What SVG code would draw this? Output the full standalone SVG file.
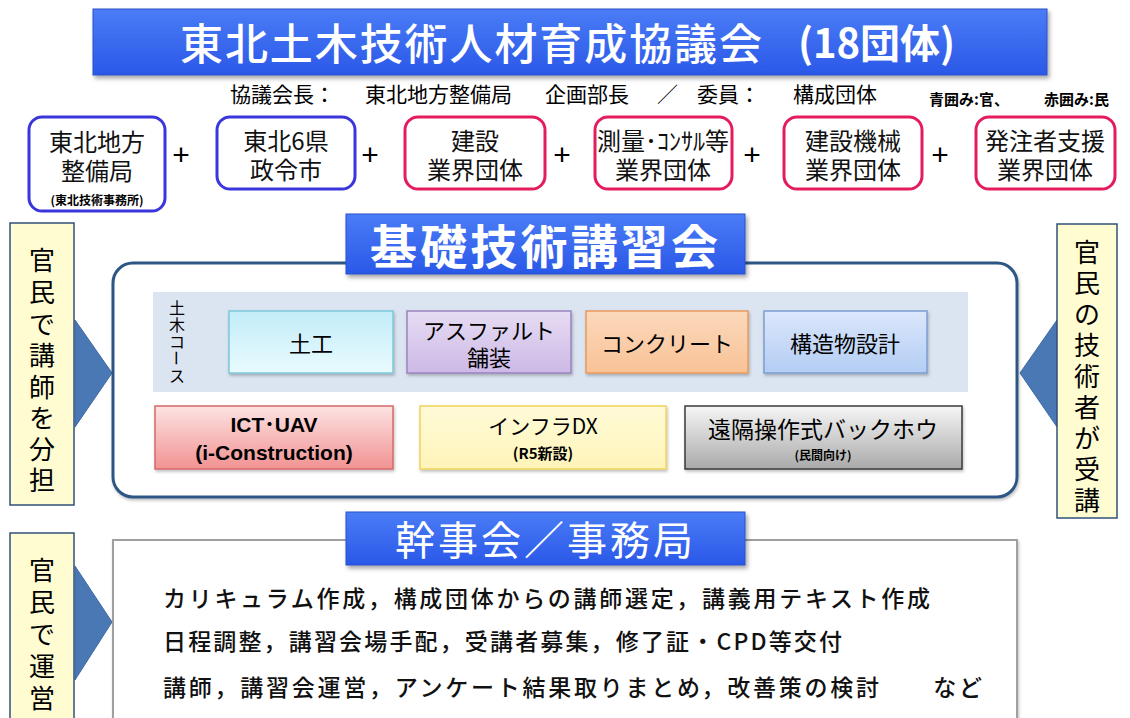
<svg xmlns="http://www.w3.org/2000/svg" width="1130" height="718" viewBox="0 0 1130 718">
<defs>
<linearGradient id="gBar" x1="0" y1="0" x2="0" y2="1"><stop offset="0" stop-color="#4a7cf6"/><stop offset="1" stop-color="#2a58e8"/></linearGradient>
<linearGradient id="gDoko" x1="0" y1="0" x2="0" y2="1"><stop offset="0" stop-color="#c2ecf8"/><stop offset="1" stop-color="#e9fbff"/></linearGradient>
<linearGradient id="gAsp" x1="0" y1="0" x2="0" y2="1"><stop offset="0" stop-color="#e6dcf3"/><stop offset="1" stop-color="#cdb9e6"/></linearGradient>
<linearGradient id="gCon" x1="0" y1="0" x2="0" y2="1"><stop offset="0" stop-color="#fbd9bc"/><stop offset="1" stop-color="#f9c296"/></linearGradient>
<linearGradient id="gStr" x1="0" y1="0" x2="0" y2="1"><stop offset="0" stop-color="#dbe7fb"/><stop offset="1" stop-color="#b3cdf4"/></linearGradient>
<linearGradient id="gIct" x1="0" y1="0" x2="0" y2="1"><stop offset="0" stop-color="#fde3e3"/><stop offset="1" stop-color="#f29292"/></linearGradient>
<linearGradient id="gDx" x1="0" y1="0" x2="0" y2="1"><stop offset="0" stop-color="#fffbd8"/><stop offset="1" stop-color="#fff4b8"/></linearGradient>
<linearGradient id="gBh" x1="0" y1="0" x2="0" y2="1"><stop offset="0" stop-color="#f6f6f6"/><stop offset="1" stop-color="#a9a9a9"/></linearGradient>
<filter id="sh" x="-5%" y="-10%" width="115%" height="130%"><feDropShadow dx="2" dy="3" stdDeviation="2" flood-color="#000" flood-opacity="0.35"/></filter>
<filter id="sh2" x="-5%" y="-10%" width="115%" height="130%"><feDropShadow dx="1" dy="2" stdDeviation="1.5" flood-color="#000" flood-opacity="0.25"/></filter>
</defs>
<style>
text{font-family:"Noto Sans CJK JP","Liberation Sans",sans-serif;fill:#000;dominant-baseline:central}
.bar{fill:url(#gBar);stroke:#2a50c8;stroke-width:1}
.barT{fill:#fff}
.org{fill:#fff;stroke-width:3}
.gov{stroke:#3a36dc}
.pvt{stroke:#e41c5c}
.orgT{font-size:24px;text-anchor:middle;fill:#111}
.plus{font-size:30px;text-anchor:middle;font-family:"Liberation Sans",sans-serif}
.call{fill:#fffcd2;stroke:#32507a;stroke-width:1.5}
.callT{font-size:26px;text-anchor:middle}
.ptr{fill:#4a78b4;stroke:#3d6aa5;stroke-width:1}
.crs{stroke-width:1.5}
.crsT{font-size:22px;text-anchor:middle}
.vt{font-size:16px;text-anchor:middle}
.body{font-size:23px;fill:#111;font-weight:500}
</style>

<g id="title">
<rect class="bar" x="93" y="9" width="954" height="66" filter="url(#sh)"/>
<text class="barT" x="180" y="41" font-size="43" font-weight="500" textLength="582" lengthAdjust="spacing">東北土木技術人材育成協議会</text>
<text class="barT" x="798" y="41" font-size="40" font-weight="bold" textLength="157" lengthAdjust="spacing">(18団体)</text>
</g>

<g id="subtitle">
<text x="230" y="93" font-size="21" fill="#333">協議会長：</text>
<text x="365" y="93" font-size="21" fill="#333">東北地方整備局</text>
<text x="545" y="93" font-size="21" fill="#333">企画部長</text>
<text x="657" y="93" font-size="21" fill="#333">／</text>
<text x="697" y="93" font-size="21" fill="#333">委員：</text>
<text x="793" y="93" font-size="21" fill="#333">構成団体</text>
<text x="929" y="98" font-size="15" font-weight="bold" fill="#2244dd">青囲み:官、</text>
<text x="1044" y="98" font-size="15" font-weight="bold" fill="#ee1111">赤囲み:民</text>
</g>

<g id="org1"><rect class="org gov" x="29" y="117" width="136" height="94" rx="13"/>
<text class="orgT" x="97" y="140">東北地方</text><text class="orgT" x="97" y="169">整備局</text>
<text x="97" y="199" font-size="12" font-weight="bold" text-anchor="middle">(東北技術事務所)</text></g>
<g id="org2"><rect class="org gov" x="217" y="117" width="138" height="72" rx="13"/>
<text class="orgT" x="286" y="139">東北6県</text><text class="orgT" x="286" y="168">政令市</text></g>
<g id="org3"><rect class="org pvt" x="405" y="117" width="140" height="72" rx="13"/>
<text class="orgT" x="475" y="139">建設</text><text class="orgT" x="475" y="168">業界団体</text></g>
<g id="org4"><rect class="org pvt" x="595" y="117" width="137" height="72" rx="13"/>
<text class="orgT" x="663" y="139">測量･ｺﾝｻﾙ等</text><text class="orgT" x="663" y="168">業界団体</text></g>
<g id="org5"><rect class="org pvt" x="784" y="117" width="138" height="72" rx="13"/>
<text class="orgT" x="853" y="139">建設機械</text><text class="orgT" x="853" y="168">業界団体</text></g>
<g id="org6"><rect class="org pvt" x="976" y="117" width="139" height="72" rx="13"/>
<text class="orgT" x="1045" y="139">発注者支援</text><text class="orgT" x="1045" y="168">業界団体</text></g>
<g id="plus">
<text class="plus" x="181" y="154">+</text><text class="plus" x="370" y="154">+</text><text class="plus" x="562" y="154">+</text><text class="plus" x="752" y="154">+</text><text class="plus" x="940" y="154">+</text>
</g>

<g id="connectors">
<polygon class="ptr" points="75,320 112,373 75,427"/>
<polygon class="ptr" points="1057,320 1020,373 1057,427"/>
<polygon class="ptr" points="75,566 112,622 75,680"/>
</g>

<g id="course">
<rect x="113" y="263" width="904" height="234" rx="20" fill="#fff" stroke="#2e5785" stroke-width="3" filter="url(#sh2)"/>
<rect x="153" y="292" width="815" height="100" fill="#dbe5f1"/>
<g id="dobokuCourse">
<text class="vt" x="177" y="307">土</text>
<text class="vt" x="177" y="324">木</text>
<text class="vt" x="177" y="341">コ</text>
<text class="vt" x="177" y="358" transform="rotate(90 177 358)">ー</text>
<text class="vt" x="177" y="375">ス</text>
</g>
<g id="doko"><rect class="crs" x="229" y="311" width="164" height="62" fill="url(#gDoko)" stroke="#7cc8dc" filter="url(#sh2)"/><text class="crsT" x="311" y="342" font-size="26">土工</text></g>
<g id="asphalt"><rect class="crs" x="407" y="311" width="164" height="62" fill="url(#gAsp)" stroke="#9a84bf" filter="url(#sh2)"/><text class="crsT" x="489" y="329">アスファルト</text><text class="crsT" x="489" y="356">舗装</text></g>
<g id="concrete"><rect class="crs" x="586" y="311" width="162" height="62" fill="url(#gCon)" stroke="#e79a5d" filter="url(#sh2)"/><text class="crsT" x="667" y="342">コンクリート</text></g>
<g id="struct"><rect class="crs" x="764" y="311" width="163" height="62" fill="url(#gStr)" stroke="#7d9dd0" filter="url(#sh2)"/><text class="crsT" x="845" y="342">構造物設計</text></g>
<g id="ict"><rect class="crs" x="155" y="406" width="238" height="63" fill="url(#gIct)" stroke="#d46a6a" filter="url(#sh2)"/>
<text x="274" y="424" font-size="21" font-weight="bold" text-anchor="middle" style="font-family:'Liberation Sans','Noto Sans CJK JP',sans-serif">ICT･UAV</text>
<text x="274" y="452" font-size="21" font-weight="bold" text-anchor="middle" style="font-family:'Liberation Sans','Noto Sans CJK JP',sans-serif">(i-Construction)</text></g>
<g id="infradx"><rect class="crs" x="420" y="406" width="246" height="63" fill="url(#gDx)" stroke="#f0d45a" filter="url(#sh2)"/>
<text x="543" y="425" font-size="21" text-anchor="middle">インフラDX</text>
<text x="543" y="452" font-size="15" font-weight="bold" text-anchor="middle">(R5新設)</text></g>
<g id="backhoe"><rect class="crs" x="685" y="406" width="277" height="63" fill="url(#gBh)" stroke="#3a3a3a" filter="url(#sh2)"/>
<text x="823" y="428" font-size="23" text-anchor="middle">遠隔操作式バックホウ</text>
<text x="823" y="454" font-size="12" font-weight="bold" text-anchor="middle">(民間向け)</text></g>
</g>
<g id="courseTitle">
<rect class="bar" x="346" y="214" width="399" height="60" filter="url(#sh)"/>
<text class="barT" x="370" y="243" font-size="47" font-weight="bold" textLength="348" lengthAdjust="spacing">基礎技術講習会</text>
</g>

<g id="leftCall1"><rect class="call" x="10" y="223" width="64" height="282"/>
<text class="callT" x="42"><tspan x="42" y="258">官</tspan><tspan x="42" y="290">民</tspan><tspan x="42" y="322">で</tspan><tspan x="42" y="353">講</tspan><tspan x="42" y="385">師</tspan><tspan x="42" y="416">を</tspan><tspan x="42" y="447">分</tspan><tspan x="42" y="478">担</tspan></text></g>
<g id="rightCall"><rect class="call" x="1057" y="224" width="60" height="294"/>
<text class="callT" x="1087"><tspan x="1087" y="250">官</tspan><tspan x="1087" y="281">民</tspan><tspan x="1087" y="312">の</tspan><tspan x="1087" y="343">技</tspan><tspan x="1087" y="374">術</tspan><tspan x="1087" y="405">者</tspan><tspan x="1087" y="436">が</tspan><tspan x="1087" y="467">受</tspan><tspan x="1087" y="498">講</tspan></text></g>

<g id="office">
<rect x="113" y="540" width="904" height="190" fill="#fff" stroke="#a0a0a0" stroke-width="2" filter="url(#sh2)"/>
<text class="body" x="163" y="597" textLength="767" lengthAdjust="spacing">カリキュラム作成，構成団体からの講師選定，講義用テキスト作成</text>
<text class="body" x="163" y="640" textLength="679" lengthAdjust="spacing">日程調整，講習会場手配，受講者募集，修了証・CPD等交付</text>
<text class="body" x="163" y="686" textLength="819" lengthAdjust="spacing">講師，講習会運営，アンケート結果取りまとめ，改善策の検討　　など</text>
</g>
<g id="officeTitle">
<rect class="bar" x="346" y="512" width="399" height="53" filter="url(#sh)"/>
<text class="barT" x="395" y="538" font-size="40" textLength="298" lengthAdjust="spacing">幹事会／事務局</text>
</g>
<g id="leftCall2"><rect class="call" x="10" y="533" width="64" height="195"/>
<text class="callT" x="42"><tspan x="42" y="568">官</tspan><tspan x="42" y="600">民</tspan><tspan x="42" y="632">で</tspan><tspan x="42" y="664">運</tspan><tspan x="42" y="696">営</tspan></text></g>
</svg>
